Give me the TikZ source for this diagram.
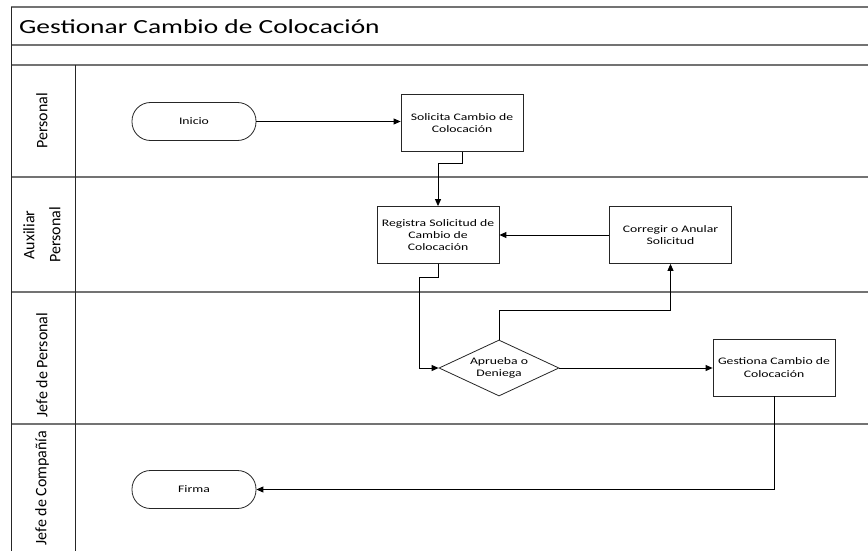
\documentclass[tikz,border=0pt]{standalone}
\usepackage{fontspec}
\setmainfont{Carlito}
\newfontfamily\wfont[FakeStretch=1.37]{Carlito}
\usetikzlibrary{arrows.meta,shapes.geometric,calc}
\begin{document}
\begin{tikzpicture}[x=1pt,y=-1pt,
  lane/.style={draw=black!55,line width=1.6pt},
  vline/.style={draw=black!85,line width=0.9pt},
  procbox/.style={draw=black!85,line width=0.8pt,fill=white,minimum width=122pt,minimum height=57pt,
    align=center,font=\wfont\fontsize{10}{12.3}\selectfont,inner sep=1pt},
  term/.style={draw=black!85,line width=0.8pt,fill=white,rounded corners=18.5pt,minimum width=124pt,minimum height=38pt,
    font=\wfont\fontsize{10}{12.3}\selectfont},
  decis/.style={draw=black!85,line width=0.8pt,fill=white,diamond,minimum width=120pt,minimum height=56pt,aspect=2.14,
    align=center,font=\wfont\fontsize{10}{12.3}\selectfont,inner sep=0pt},
  lanelabel/.style={rotate=90,align=center,font=\fontsize{16}{26}\selectfont},
  flow/.style={draw=black,line width=0.9pt,-{Triangle[length=7pt,width=6pt]}},
  plainflow/.style={draw=black,line width=0.9pt}]
\useasboundingbox (0,0) rectangle (868,551);
\fill[white] (0,0) rectangle (868,551);
% frame
\draw[lane] (11,7) -- (868,7);
\draw[lane] (11,45) -- (868,45);
\draw[lane] (11,65) -- (868,65);
\draw[lane] (11,177) -- (868,177);
\draw[lane] (11,292) -- (868,292);
\draw[lane] (11,424) -- (868,424);
\draw[vline] (11,7) -- (11,551);
\draw[vline] (75,65) -- (75,551);
% title
\node[anchor=base west,inner sep=0pt,font=\wfont\fontsize{20}{24}\selectfont] (title) at (19,34) {Gestionar Cambio de Colocación};
% lane labels
\node[lanelabel] (l1) at (42,121) {Personal};
\node[lanelabel] (l2) at (42,235) {Auxiliar\\Personal};
\node[lanelabel] (l3) at (42,365) {Jefe de Personal};
\node[lanelabel] (l4) at (42,488) {Jefe de Compañía};
% nodes
\node[term] (inicio) at (194,121.5) {Inicio};
\node[procbox] (solicita) at (462,123) {Solicita Cambio de\\Colocación};
\node[procbox] (registra) at (438,235) {Registra Solicitud de\\Cambio de\\Colocación};
\node[procbox] (corregir) at (670.5,235) {Corregir o Anular\\Solicitud};
\node[decis] (dec) at (499,368) {Aprueba o\\Deniega};
\node[procbox] (gestiona) at (774,367.5) {Gestiona Cambio de\\Colocación};
\node[term] (firma) at (194,489.5) {Firma};
% connectors
\draw[flow] (inicio.east) -- (solicita.west |- inicio.east);
\draw[flow] (solicita.south) -- ++(0,12) -| (registra.north);
\draw[flow] (corregir.west) -- (registra.east);
\coordinate (bend) at (419,368);
\draw[flow] (registra.south) -- ++(0,14) -| (bend) -- (dec.west);
\draw[flow] (dec.north) -- ++(0,-29) -| (corregir.south);
\draw[flow] (dec.east) -- (gestiona.west |- dec.east);
\draw[flow] (gestiona.south) |- (firma.east);
\end{tikzpicture}
\end{document}
